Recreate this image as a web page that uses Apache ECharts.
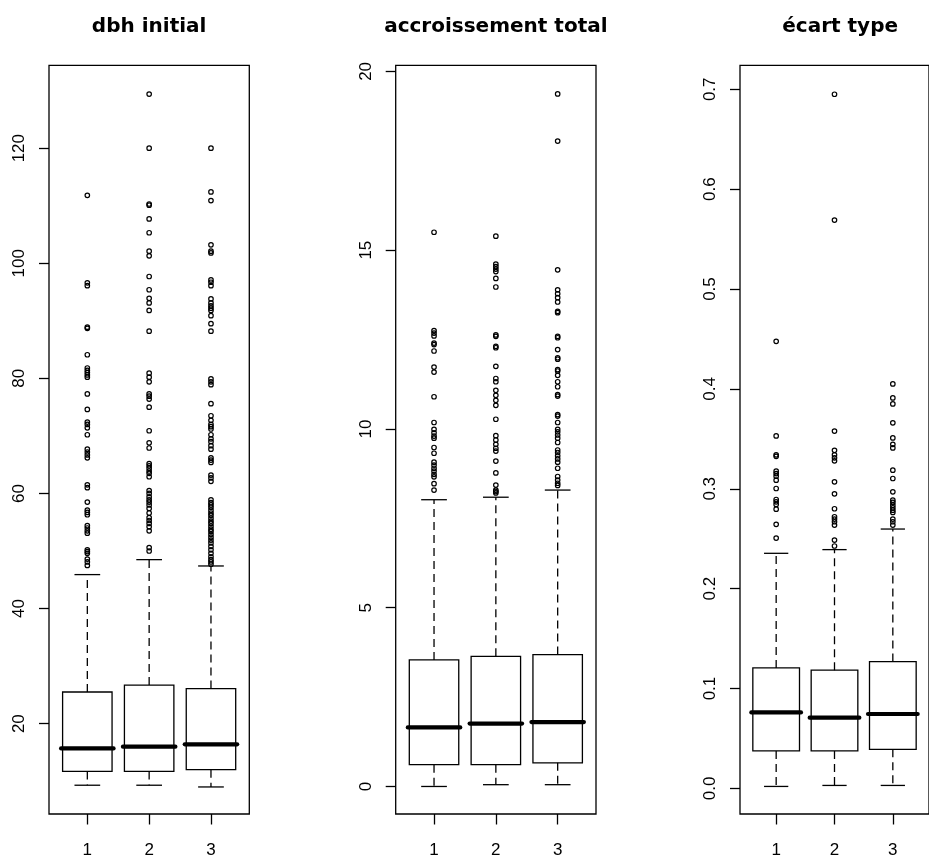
<!DOCTYPE html>
<html>
<head>
<meta charset="utf-8">
<script src="https://cdn.jsdelivr.net/npm/echarts@6/dist/echarts.min.js"></script>
<style>
html,body{margin:0;padding:0;background:#fff;}
#chart{width:929px;height:859px;}
</style>
</head>
<body>
<div id="chart"></div>
<script>
// ---------- data ----------
const categories = [1, 2, 3];
const panelTitles = ['dbh initial', 'accroissement total', 'écart type'];

// dbh initial : five-number summaries per group
const dbhMin    = [9.3, 9.3, 9.0];
const dbhQ1     = [11.7, 11.7, 12.0];
const dbhMedian = [15.7, 16.0, 16.4];
const dbhQ3     = [25.5, 26.7, 26.1];
const dbhMax    = [45.9, 48.5, 47.4];
const dbhOut1 = [111.8, 96.6, 96.1, 88.9, 88.7, 84.1, 81.8, 81.4, 81.0, 80.6, 80.2, 77.3, 74.6, 72.4, 72.0, 71.4, 70.2,
                 67.7, 67.2, 66.7, 66.2, 61.5, 61.0, 58.5, 57.1, 56.7, 56.3, 54.4, 54.0, 53.5, 53.1, 50.2, 49.9, 49.6,
                 48.6, 48.1, 47.5];
const dbhOut2 = [129.4, 120.0, 110.3, 110.1, 107.7, 105.3, 102.1, 101.3, 97.7, 95.4, 93.9, 93.1, 91.8, 88.2, 80.9, 80.2,
                 79.4, 77.3, 76.9, 76.4, 75.0, 70.9, 68.8, 67.9, 65.2, 64.8, 64.4, 63.9, 63.5, 62.9, 60.5, 60.0, 59.4,
                 58.9, 58.5, 58.0, 57.4, 56.6, 55.8, 55.3, 54.8, 54.2, 53.5, 50.6, 50.0];
const dbhOut3 = [120.0, 112.4, 110.9, 103.2, 102.1, 101.8, 97.1, 96.7, 96.1, 93.8, 93.1, 92.6, 92.2, 91.8, 90.9, 89.5,
                 88.2, 79.9, 79.4, 78.9, 75.6, 73.5, 72.7, 72.0, 71.6, 71.2, 70.2, 69.5, 69.0, 68.3, 67.7, 66.2, 65.8,
                 65.4, 63.2, 62.7, 62.1, 58.9, 58.4, 58.0, 57.6, 57.1, 56.6, 56.2, 55.7, 55.2, 54.8, 54.3, 53.8, 53.4,
                 52.9, 52.4, 51.9, 51.4, 50.8, 50.2, 49.6, 49.0, 48.5, 48.1, 47.7];
const dbhTicks = [20, 40, 60, 80, 100, 120];

// accroissement total
const grMin    = [0.0, 0.05, 0.05];
const grQ1     = [0.61, 0.61, 0.66];
const grMedian = [1.65, 1.76, 1.80];
const grQ3     = [3.54, 3.64, 3.69];
const grMax    = [8.02, 8.09, 8.29];
const grOut1 = [15.50, 12.75, 12.68, 12.60, 12.40, 12.36, 12.18, 11.73, 11.59, 10.90, 10.18, 9.99, 9.89, 9.80, 9.74,
                9.48, 9.32, 9.07, 8.99, 8.90, 8.82, 8.73, 8.66, 8.47, 8.29];
const grOut2 = [15.39, 14.61, 14.54, 14.47, 14.40, 14.21, 13.97, 12.63, 12.59, 12.31, 12.27, 11.75, 11.41, 11.32, 11.08,
                10.94, 10.80, 10.66, 10.27, 9.81, 9.69, 9.57, 9.46, 9.38, 9.10, 8.77, 8.43, 8.29, 8.25, 8.21];
const grOut3 = [19.37, 18.05, 14.45, 13.89, 13.78, 13.67, 13.55, 13.29, 13.25, 12.59, 12.55, 12.22, 11.99, 11.95, 11.66,
                11.62, 11.50, 11.32, 11.18, 10.96, 10.92, 10.40, 10.36, 10.18, 9.99, 9.92, 9.83, 9.74, 9.62, 9.41, 9.34,
                9.25, 9.16, 9.07, 8.90, 8.67, 8.57, 8.48, 8.42];
const grTicks = [0, 5, 10, 15, 20];

// écart type
const sdMin    = [0.002, 0.003, 0.003];
const sdQ1     = [0.0376, 0.0376, 0.0392];
const sdMedian = [0.0761, 0.0708, 0.0745];
const sdQ3     = [0.1207, 0.1184, 0.1270];
const sdMax    = [0.2354, 0.2391, 0.2597];
const sdOut1 = [0.4476, 0.3529, 0.3340, 0.3325, 0.3176, 0.3152, 0.3126, 0.3086, 0.3003, 0.2893, 0.2870, 0.2843, 0.2796,
                0.2644, 0.2507];
const sdOut2 = [0.695, 0.569, 0.3578, 0.3385, 0.3340, 0.3310, 0.3280, 0.3070, 0.2950, 0.2800, 0.2720, 0.2697, 0.2670,
                0.2637, 0.2487, 0.2427];
const sdOut3 = [0.405, 0.391, 0.385, 0.366, 0.3509, 0.3445, 0.3409, 0.3186, 0.3103, 0.2970, 0.2886, 0.2863, 0.2836,
                0.2810, 0.2786, 0.2763, 0.2697, 0.2670, 0.2637];
const sdTicks = [0.0, 0.1, 0.2, 0.3, 0.4, 0.5, 0.6, 0.7];

// ---------- build ----------
const panels = [
  {stats: [dbhMin, dbhQ1, dbhMedian, dbhQ3, dbhMax], outs: [dbhOut1, dbhOut2, dbhOut3], ticks: dbhTicks,
   yMin: 4.3, yMax: 134.4, fmt: v => String(v), left: 49, title: panelTitles[0]},
  {stats: [grMin, grQ1, grMedian, grQ3, grMax], outs: [grOut1, grOut2, grOut3], ticks: grTicks,
   yMin: -0.77, yMax: 20.17, fmt: v => String(v), left: 395.7, title: panelTitles[1]},
  {stats: [sdMin, sdQ1, sdMedian, sdQ3, sdMax], outs: [sdOut1, sdOut2, sdOut3], ticks: sdTicks,
   yMin: -0.0256, yMax: 0.724, fmt: v => v.toFixed(1), left: 740, title: panelTitles[2]}
];

const PLOT_W = 200.3, PLOT_TOP = 65.3, PLOT_H = 751.4;
const tickFont = 'Liberation Sans, Arial, Helvetica, sans-serif';
const LW = 1.3;

function renderBox(params, api) {
  const x = api.value(0);
  const c = v => api.coord([x, v]);
  const pMin = c(api.value(1)), pQ1 = c(api.value(2)), pMed = c(api.value(3)),
        pQ3 = c(api.value(4)), pMax = c(api.value(5));
  const bw = api.size([0.8, 0])[0];
  const sw = bw * 0.52;
  const cx = pMed[0];
  const solid = {stroke: '#000', lineWidth: LW, fill: null};
  const dashed = {stroke: '#000', lineWidth: LW, fill: null, lineDash: [8, 5]};
  return {
    type: 'group',
    children: [
      {type: 'line', shape: {x1: cx, y1: pQ3[1], x2: cx, y2: pMax[1]}, style: dashed},
      {type: 'line', shape: {x1: cx, y1: pQ1[1], x2: cx, y2: pMin[1]}, style: dashed},
      {type: 'line', shape: {x1: cx - sw / 2, y1: pMax[1], x2: cx + sw / 2, y2: pMax[1]}, style: solid},
      {type: 'line', shape: {x1: cx - sw / 2, y1: pMin[1], x2: cx + sw / 2, y2: pMin[1]}, style: solid},
      {type: 'rect', shape: {x: cx - bw / 2, y: pQ3[1], width: bw, height: pQ1[1] - pQ3[1]},
       style: {stroke: '#000', lineWidth: LW, fill: 'rgba(0,0,0,0)'}},
      {type: 'line', shape: {x1: cx - bw / 2 - 1.5, y1: pMed[1], x2: cx + bw / 2 + 1.5, y2: pMed[1]},
       style: {stroke: '#000', lineWidth: 4.2, lineCap: 'round'}}
    ]
  };
}

const option = {
  animation: false,
  backgroundColor: '#fff',
  title: [], grid: [], xAxis: [], yAxis: [], series: []
};

panels.forEach((p, i) => {
  option.title.push({
    text: p.title,
    left: p.left + PLOT_W / 2,
    top: 17,
    textAlign: 'center',
    padding: 0,
    textStyle: {fontFamily: 'DejaVu Sans', fontWeight: 'bold', fontSize: 20, color: '#000'}
  });
  option.grid.push({
    left: p.left, top: PLOT_TOP, width: PLOT_W, height: PLOT_H,
    show: true, borderColor: '#000', borderWidth: LW, backgroundColor: 'transparent', containLabel: false
  });
  option.xAxis.push({
    type: 'value', gridIndex: i, min: 0.38, max: 3.62, position: 'bottom',
    splitLine: {show: false},
    axisLine: {show: false, onZero: false},
    axisTick: {show: true, inside: false, length: 10.5, customValues: categories,
               lineStyle: {color: '#000', width: LW}},
    axisLabel: {show: true, customValues: categories, margin: 28, fontSize: 17,
                fontFamily: tickFont, color: '#000', formatter: v => String(v)}
  });
  option.yAxis.push({
    type: 'value', gridIndex: i, min: p.yMin, max: p.yMax, position: 'left',
    splitLine: {show: false},
    axisLine: {show: false, onZero: false},
    axisTick: {show: true, inside: false, length: 10, customValues: p.ticks,
               lineStyle: {color: '#000', width: LW}},
    axisLabel: {show: true, customValues: p.ticks, rotate: 90, margin: 21, fontSize: 17,
                fontFamily: tickFont, color: '#000', formatter: p.fmt}
  });
  const boxData = categories.map((cat, k) => [cat, p.stats[0][k], p.stats[1][k], p.stats[2][k], p.stats[3][k], p.stats[4][k]]);
  option.series.push({
    type: 'custom', xAxisIndex: i, yAxisIndex: i,
    renderItem: renderBox,
    encode: {x: 0, y: [1, 2, 3, 4, 5]},
    data: boxData,
    silent: true
  });
  const outData = [];
  p.outs.forEach((arr, k) => arr.forEach(v => outData.push([categories[k], v])));
  option.series.push({
    type: 'scatter', xAxisIndex: i, yAxisIndex: i,
    symbol: 'circle', symbolSize: 4.5,
    itemStyle: {color: 'rgba(0,0,0,0)', borderColor: '#000', borderWidth: 1.2, opacity: 1},
    data: outData,
    silent: true
  });
});

const chart = echarts.init(document.getElementById('chart'), null, {renderer: 'canvas'});
chart.setOption(option);
</script>
</body>
</html>
